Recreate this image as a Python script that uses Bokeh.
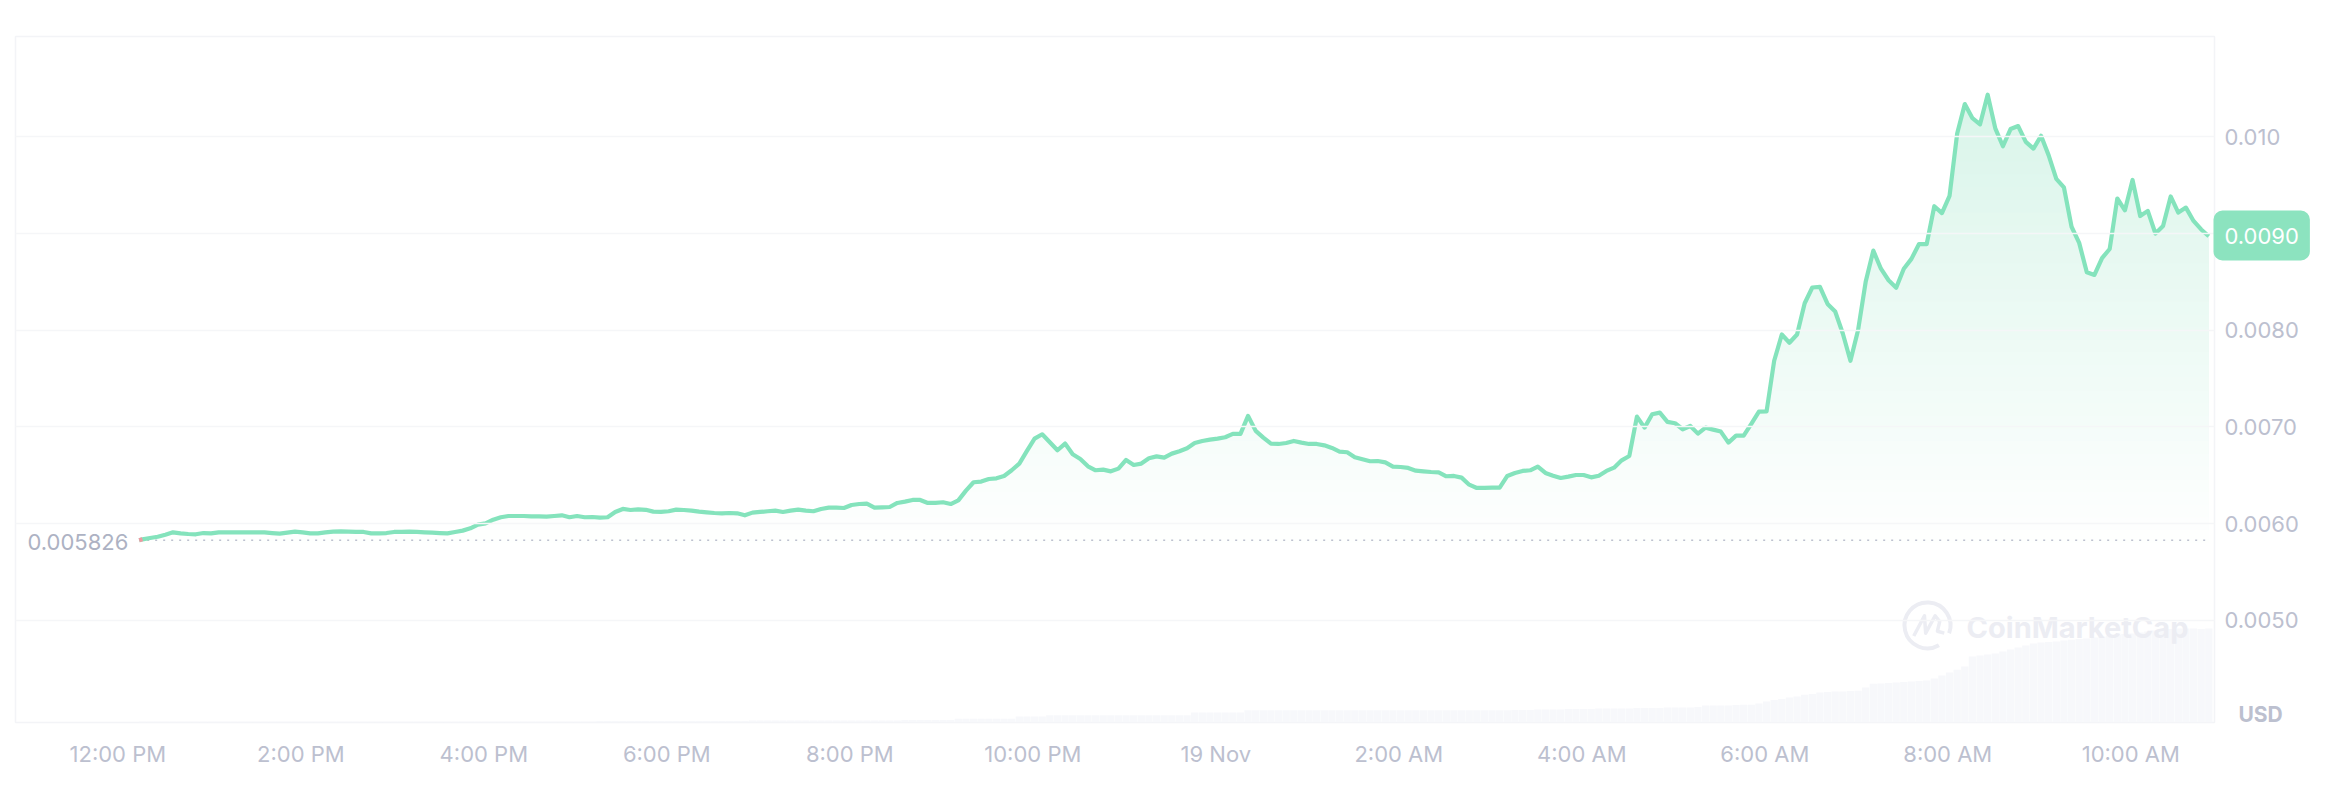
from bokeh.core.properties import value
from bokeh.embed import file_html
from bokeh.models import FixedTicker, Label, Range1d
from bokeh.plotting import figure
from bokeh.resources import INLINE
import numpy as np

# price in USD, one reading every 5 minutes
open_price = 0.005828
open_minute = 14.0
first_minute = 16.16
price = [
    0.005838, 0.005852, 0.005865, 0.005886, 0.00591, 0.0059, 0.005893, 0.00589, 0.005903, 0.0059,
    0.00591, 0.00591, 0.00591, 0.00591, 0.00591, 0.00591, 0.00591, 0.005903, 0.005897, 0.005907,
    0.005917, 0.00591, 0.0059, 0.0059, 0.00591, 0.005917, 0.005921, 0.005917, 0.005914, 0.005914,
    0.0059, 0.0059, 0.005903, 0.005914, 0.005914, 0.005917, 0.005914, 0.00591, 0.005907, 0.005903,
    0.0059, 0.005914, 0.005928, 0.005952, 0.00599, 0.006003, 0.006041, 0.006066, 0.006079, 0.006079,
    0.006079, 0.006076, 0.006076, 0.006072, 0.006079, 0.006086, 0.006066, 0.006079, 0.006066, 0.006069,
    0.006062, 0.006066, 0.006121, 0.006152, 0.006141, 0.006148, 0.006143, 0.006124, 0.006121, 0.006128,
    0.006145, 0.006141, 0.006135, 0.006124, 0.006117, 0.00611, 0.006107, 0.00611, 0.006107, 0.006086,
    0.006114, 0.006121, 0.006128, 0.006135, 0.006121, 0.006135, 0.006145, 0.006135, 0.006128, 0.006152,
    0.006166, 0.006166, 0.006162, 0.006193, 0.006203, 0.006207, 0.006166, 0.006169, 0.006172, 0.006214,
    0.006228, 0.006245, 0.006245, 0.006214, 0.006214, 0.006221, 0.006203, 0.006241, 0.006341, 0.006428,
    0.006435, 0.006462, 0.006469, 0.006493, 0.006552, 0.006621, 0.006752, 0.006879, 0.006924, 0.006841,
    0.006759, 0.006828, 0.006717, 0.006669, 0.006593, 0.006552, 0.006559, 0.006541, 0.006569, 0.006659,
    0.006607, 0.006621, 0.006676, 0.006696, 0.006683, 0.006724, 0.006748, 0.006779, 0.006834, 0.006855,
    0.006869, 0.006879, 0.006893, 0.006928, 0.006928, 0.007114, 0.006959, 0.00689, 0.006828, 0.006824,
    0.006834, 0.006855, 0.006838, 0.006824, 0.006824, 0.00681, 0.006783, 0.006745, 0.006738, 0.006686,
    0.006665, 0.006645, 0.006648, 0.006634, 0.00659, 0.006586, 0.006576, 0.006548, 0.006541, 0.006534,
    0.006531, 0.00649, 0.006493, 0.006476, 0.006403, 0.006369, 0.006369, 0.006372, 0.006372, 0.006493,
    0.006524, 0.006545, 0.006552, 0.00659, 0.006524, 0.006496, 0.006472, 0.006486, 0.006503, 0.006503,
    0.006479, 0.006496, 0.006545, 0.006579, 0.006655, 0.0067, 0.007107, 0.006993, 0.007131, 0.007148,
    0.007052, 0.007038, 0.006976, 0.00701, 0.006931, 0.006993, 0.006972, 0.006952, 0.006838, 0.00691,
    0.00691, 0.007031, 0.007159, 0.00716, 0.007684, 0.007956, 0.007871, 0.007956, 0.008279, 0.008442,
    0.008449, 0.008272, 0.008194, 0.007966, 0.007684, 0.008, 0.0085, 0.008823, 0.008636, 0.008517,
    0.008439, 0.008636, 0.008738, 0.008891, 0.008891, 0.009282, 0.009211, 0.00939, 0.010035, 0.010338,
    0.010192, 0.010129, 0.010435, 0.010087, 0.009902, 0.01008, 0.010111, 0.009948, 0.009878, 0.01001,
    0.009808, 0.009565, 0.009477, 0.00907, 0.008903, 0.008599, 0.008572, 0.008746, 0.00884, 0.009362,
    0.00924, 0.009554, 0.009181, 0.009234, 0.009, 0.009077, 0.009383, 0.009216, 0.009268, 0.00913,
    0.009042, 0.008972,
]

# volume, no scale in the picture so just relative units
volume = [
    0.1, 0.1, 0.1, 0.1, 0.1, 0.1, 0.1, 0.1, 0.1, 0.1, 0.1, 0.1, 0.1, 0.1, 0.1, 0.1, 0.1, 0.1, 0.1, 0.1,
    0.1, 0.1, 0.1, 0.1, 0.1, 0.1, 0.1, 0.1, 0.1, 0.1, 0.1, 0.1, 0.1, 0.1, 0.1, 0.1, 0.1, 0.1, 0.1, 0.1,
    0.1, 0.1, 0.1, 0.1, 0.1, 0.1, 0.1, 0.1, 0.1, 0.1, 0.1, 0.1, 0.1, 0.1, 0.1, 0.1, 0.1, 0.1, 0.1, 0.1,
    0.15, 0.15, 0.15, 0.15, 0.15, 0.15, 0.15, 0.15, 0.15, 0.15, 0.15, 0.15, 0.15, 0.15, 0.15, 0.15, 0.15, 0.15, 0.15, 0.15,
    0.2, 0.2, 0.2, 0.2, 0.2, 0.2, 0.2, 0.2, 0.2, 0.2, 0.2, 0.2, 0.2, 0.2, 0.2, 0.2, 0.2, 0.2, 0.2, 0.2,
    0.25, 0.25, 0.25, 0.25, 0.25, 0.25, 0.25, 0.37, 0.37, 0.37, 0.37, 0.37, 0.37, 0.37, 0.37, 0.6, 0.6, 0.6, 0.6, 0.73,
    0.73, 0.73, 0.73, 0.73, 0.73, 0.73, 0.73, 0.73, 0.73, 0.73, 0.73, 0.73, 0.73, 0.73, 0.73, 0.73, 0.73, 0.73, 1.0, 1.0,
    1.0, 1.0, 1.0, 1.0, 1.0, 1.23, 1.23, 1.23, 1.23, 1.23, 1.23, 1.23, 1.23, 1.23, 1.23, 1.23, 1.23, 1.23, 1.23, 1.23,
    1.23, 1.23, 1.23, 1.23, 1.23, 1.23, 1.23, 1.23, 1.23, 1.23, 1.23, 1.23, 1.23, 1.23, 1.23, 1.23, 1.23, 1.23, 1.23, 1.23,
    1.25, 1.25, 1.25, 1.3, 1.3, 1.3, 1.3, 1.35, 1.35, 1.35, 1.35, 1.4, 1.4, 1.4, 1.4, 1.4, 1.45, 1.45, 1.45, 1.45,
    1.5, 1.5, 1.5, 1.5, 1.55, 1.7, 1.7, 1.7, 1.7, 1.75, 1.77, 1.77, 1.9, 2.1, 2.25, 2.35, 2.5, 2.6, 2.77, 2.85,
    3.0, 3.05, 3.1, 3.1, 3.15, 3.17, 3.5, 3.87, 3.9, 3.95, 4.0, 4.05, 4.1, 4.15, 4.2, 4.4, 4.7, 5.0, 5.27, 5.6,
    6.6, 6.7, 6.8, 6.9, 7.1, 7.3, 7.5, 7.7, 7.9, 8.0, 8.05, 8.1, 8.2, 8.27, 8.35, 8.4, 8.5, 8.6, 8.7, 8.77,
    8.85, 8.9, 9.0, 9.1, 9.2, 9.3, 9.35, 9.4, 9.4, 9.4, 9.35, 9.4,
]

x_tick_minutes = [0, 120, 240, 360, 480, 600, 720, 840, 960, 1080, 1200, 1320]
x_tick_labels = ["12:00 PM", "2:00 PM", "4:00 PM", "6:00 PM", "8:00 PM", "10:00 PM", "19 Nov",
                 "2:00 AM", "4:00 AM", "6:00 AM", "8:00 AM", "10:00 AM"]
y_ticks = [0.005, 0.006, 0.007, 0.008, 0.009, 0.010]
# 0.009 has the price box on top of it instead
y_tick_labels = ["0.0050", "0.0060", "0.0070", "0.0080", "", "0.010"]

FONT = "Inter"
LINE = "#84e3bc"
MUTED = "#bcc0cf"
MARK = "#ecedf3"
BOX = "#8ce3bf"


def band_color(t):
    # white at the bottom of the fill, pale green at the top
    top = (218, 245, 234)
    return "#%02x%02x%02x" % tuple(int(round(255 + (c - 255) * t)) for c in top)


minutes = first_minute + 5 * np.arange(len(price))
line_x = np.concatenate([[open_minute], minutes])
line_y = np.concatenate([[open_price], price])

p = figure(width=2316, height=794, output_backend="svg", toolbar_location=None,
           x_range=Range1d(-67.1, 1374.9), y_range=Range1d(0.003944, 0.011037),
           y_axis_location="right", min_border_left=15, min_border_right=102,
           min_border_top=36, min_border_bottom=70)
p.extra_y_ranges = {"volume": Range1d(0, 68.55)}
p.background_fill_color = "white"
p.border_fill_color = "white"
p.outline_line_color = "#f3f4f7"
p.outline_line_width = 1.5

p.xgrid.visible = False
p.ygrid.grid_line_color = "#f5f6f8"
p.ygrid.grid_line_width = 1.5
p.ygrid.level = "guide"

p.xaxis.ticker = FixedTicker(ticks=x_tick_minutes)
p.xaxis.major_label_overrides = dict(zip(x_tick_minutes, x_tick_labels))
p.yaxis.ticker = FixedTicker(ticks=y_ticks)
p.yaxis.major_label_overrides = dict(zip(y_ticks, y_tick_labels))
for ax in (p.xaxis[0], p.yaxis[0]):
    ax.axis_line_color = None
    ax.major_tick_line_color = None
    ax.minor_tick_line_color = None
    ax.major_label_text_font = FONT
    ax.major_label_text_font_size = "22px"
    ax.major_label_text_color = MUTED
p.xaxis.major_label_standoff = 12
p.yaxis.major_label_standoff = 4

# volume bars at the bottom
p.vbar(x=minutes, top=volume, bottom=0, width=4.8, y_range_name="volume",
       fill_color="#f7f8fb", line_color=None)

# gradient under the line, painted from the top band down so no seams show
base = 0.0058
levels = np.linspace(0.0104, base, 36)
for lv in levels:
    t = (lv - base) / (levels[0] - base)
    p.varea(x=line_x, y1=np.minimum(line_y, base), y2=np.minimum(line_y, lv),
            fill_color=band_color(t))

# dotted open price
p.line([open_minute, minutes[-1]], [open_price, open_price], line_color="#bdc1cf",
       line_width=1.5, line_dash="2 6")

p.line(line_x, line_y, line_color=LINE, line_width=4.2, line_join="round")
p.line(line_x[:2], line_y[:2], line_color="#ee9aa2", line_width=4.2)

# watermark
logo_x, logo_y = 1186.7, 0.004948
p.arc(x=[logo_x], y=[logo_y], radius=23, radius_units="screen", start_angle=-0.35,
      end_angle=-1.05, line_color=MARK, line_width=4)
m_dx = [-9, -2, -1.2, 5, 8, 6.5, 11]
m_dy = [1.1e-4, -1.0e-4, 0.8e-4, -1.0e-4, -0.4e-4, 0.6e-4, 0.8e-4]
p.line([logo_x + d for d in m_dx], [logo_y - d for d in m_dy], line_color=MARK, line_width=3.5,
       line_join="round")
p.text(x=[1212.3], y=[0.004927], text=["CoinMarketCap"], text_font=value(FONT),
       text_font_style="bold", text_font_size="29px", text_color=MARK,
       text_baseline="middle", text_align="left")

p.add_layout(Label(x=20, y=541, x_units="canvas", y_units="canvas", text="0.005826",
                   text_font=FONT, text_font_size="22px", text_color="#adb2c3",
                   text_align="left", text_baseline="middle",
                   background_fill_color="white", padding=7))

# labels inside the frame get clipped, so these two live in the above/below panels.
# the thick border makes the box taller without the panel growing
p.add_layout(Label(x=2220, y=235, x_units="canvas", y_units="canvas", text="0.0090",
                   text_font=FONT, text_font_size="22px", text_color="white",
                   text_align="left", text_baseline="middle",
                   background_fill_color=BOX, border_line_color=BOX, border_line_width=14,
                   padding=(4, 10), border_radius=2), "above")

p.add_layout(Label(x=2238, y=714, x_units="canvas", y_units="canvas", text="USD",
                   text_font=FONT, text_font_size="21px", text_font_style="bold",
                   text_color=MUTED, text_align="left", text_baseline="middle"), "below")

open("out.html", "w").write(file_html(p, INLINE))
